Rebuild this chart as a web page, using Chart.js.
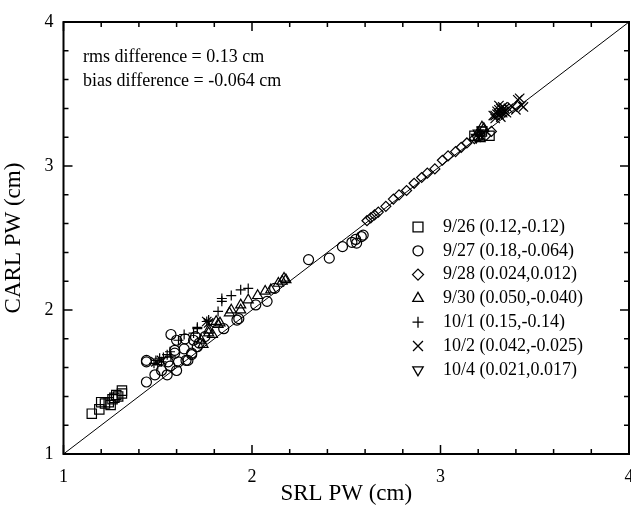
<!DOCTYPE html>
<html>
<head>
<meta charset="utf-8">
<script src="https://cdn.jsdelivr.net/npm/chart.js@4/dist/chart.umd.min.js"></script>
<style>
  html, body { margin: 0; padding: 0; background: #fff; }
  #wrap { width: 631px; height: 508px; position: relative; }
</style>
</head>
<body>
<div id="wrap"><canvas id="c" width="631" height="508"></canvas></div>
<script>
// ---- data (SRL PW, CARL PW) in cm ----
const seriesLabels = ['9/26 (0.12,-0.12)', '9/27 (0.18,-0.064)', '9/28 (0.024,0.012)',
  '9/30 (0.050,-0.040)', '10/1 (0.15,-0.14)', '10/2 (0.042,-0.025)', '10/4 (0.021,0.017)'];

const d0926 = [[1.15,1.28],[1.19,1.31],[1.20,1.36],[1.22,1.35],[1.24,1.36],[1.25,1.34],[1.26,1.38],
  [1.27,1.39],[1.28,1.41],[1.29,1.40],[1.31,1.44],[1.31,1.42],[3.26,3.21],[3.22,3.24],[3.18,3.21]];
const d0927 = [[1.44,1.50],[1.485,1.55],[1.52,1.58],[1.44,1.64],[1.55,1.55],[1.565,1.61],[1.555,1.64],
  [1.57,1.83],[1.60,1.79],[1.64,1.73],[1.59,1.70],[1.65,1.65],[1.61,1.64],[1.68,1.70],[1.71,1.745],
  [1.72,1.77],[1.75,1.815],[1.60,1.58],[1.645,1.80],[1.69,1.79],[1.70,1.815],[1.44,1.65],[1.66,1.65],
  [1.68,1.69],[1.59,1.72],[1.85,1.87],[1.93,1.94],[2.02,2.035],[2.08,2.06],[2.12,2.15],[1.92,1.93],
  [2.30,2.35],[2.41,2.36],[2.48,2.44],[2.53,2.47],[2.55,2.49],[2.58,2.51],[2.59,2.52],[2.555,2.465]];
const d0928 = [[2.61,2.62],[2.63,2.64],[2.65,2.66],[2.67,2.68],[2.71,2.72],[2.75,2.77],[2.78,2.80],
  [2.82,2.83],[2.86,2.88],[2.90,2.92],[2.93,2.95],[2.97,2.98],[3.01,3.04],[3.04,3.07],[3.08,3.10],
  [3.11,3.13],[3.14,3.16],[3.18,3.19],[3.21,3.22],[3.24,3.21],[3.27,3.24]];
const d0930 = [[1.77,1.86],[1.79,1.83],[1.77,1.84],[1.82,1.90],[1.81,1.92],[1.83,1.91],[1.88,1.98],
  [1.89,2.00],[1.94,2.00],[1.94,2.035],[1.98,2.07],[2.03,2.10],[2.07,2.13],[2.10,2.14],[2.14,2.185],
  [2.17,2.22],[2.16,2.20],[2.18,2.21],[1.73,1.79],[1.74,1.76],
  [3.20,3.23],[3.23,3.26],[3.21,3.19],[3.22,3.27],[3.20,3.20]];
const d1001 = [[1.84,2.06],[1.84,2.08],[1.89,2.10],[1.94,2.14],[1.98,2.15],[1.77,1.93],[1.71,1.87],
  [1.82,1.99],[1.71,1.88],[1.69,1.84],[1.64,1.83],[1.55,1.69],[1.51,1.665],[1.49,1.65],[1.48,1.63],
  [1.52,1.64],[1.565,1.71],[1.61,1.79],[1.76,1.92],[1.53,1.67],[1.50,1.62],[1.57,1.68]];
const d1002 = [[3.33,3.41],[3.42,3.47],[3.44,3.41],[3.40,3.39],[3.29,3.35],[3.33,3.37],[3.31,3.42],
  [3.41,3.46],[3.43,3.42],[3.32,3.37],[3.28,3.35],[3.30,3.38],[3.31,3.36],[3.32,3.40],[3.33,3.39],
  [3.34,3.38],[3.35,3.37],[3.31,3.39],[3.30,3.36],[3.34,3.40],[3.36,3.40],[3.38,3.41],[3.32,3.34],
  [3.29,3.33],[1.76,1.92],[1.77,1.91],[1.52,1.65],[1.49,1.64]];
const d1004 = [[3.20,3.23],[3.21,3.21],[3.19,3.20],[3.22,3.25]];

const identityLine = [1, 4];
const axisMin = 1, axisMax = 4, minorStep = 0.2;
const annotations = ['rms difference = 0.13 cm', 'bias difference = -0.064 cm'];

// ---- styling ----
const seriesData = [d0926, d0927, d0928, d0930, d1001, d1002, d1004];
const styles = [
  {pointStyle:'rect', r:6.6, lr:7, rot:0},
  {pointStyle:'circle', r:5, lr:5, rot:0},
  {pointStyle:'rectRot', r:5, lr:5.5, rot:0},
  {pointStyle:'triangle', r:5.8, lr:6, rot:0},
  {pointStyle:'cross', r:5, lr:5.5, rot:0},
  {pointStyle:'crossRot', r:6.6, lr:7, rot:0},
  {pointStyle:'triangle', r:5.8, lr:6, rot:180}
];
const FONT = '"Liberation Serif", "Times New Roman", serif';

const datasets = seriesData.map((arr, i) => ({
  type: 'scatter',
  label: seriesLabels[i],
  data: arr.map(p => ({x: p[0], y: p[1]})),
  pointStyle: styles[i].pointStyle,
  pointRadius: styles[i].r,
  pointRotation: styles[i].rot,
  pointBackgroundColor: 'rgba(0,0,0,0)',
  pointBorderColor: '#000',
  pointBorderWidth: 1.2,
  showLine: false,
  clip: false
}));
datasets.push({
  type: 'line',
  label: '1:1',
  data: identityLine.map(v => ({x: v, y: v})),
  borderColor: '#000',
  borderWidth: 1,
  pointRadius: 0,
  fill: false
});

const isMajor = v => Math.abs(v - Math.round(v)) < 1e-6;

const framePlugin = {
  id: 'frame',
  afterDatasetsDraw(chart) {
    const {ctx, chartArea: a, scales: {x, y}} = chart;
    ctx.save();
    ctx.strokeStyle = '#000';
    ctx.lineWidth = 1.5;
    ctx.beginPath();
    x.ticks.forEach(t => {
      const px = x.getPixelForValue(t.value);
      const L = isMajor(t.value) ? 9 : 5;
      ctx.moveTo(px, a.bottom); ctx.lineTo(px, a.bottom - L);
      ctx.moveTo(px, a.top); ctx.lineTo(px, a.top + L);
    });
    y.ticks.forEach(t => {
      const py = y.getPixelForValue(t.value);
      const L = isMajor(t.value) ? 9 : 5;
      ctx.moveTo(a.left, py); ctx.lineTo(a.left + L, py);
      ctx.moveTo(a.right, py); ctx.lineTo(a.right - L, py);
    });
    ctx.stroke();
    ctx.lineWidth = 2;
    ctx.strokeRect(a.left, a.top, a.right - a.left, a.bottom - a.top);

    // annotations
    ctx.fillStyle = '#000';
    ctx.font = '18px ' + FONT;
    ctx.textBaseline = 'middle';
    ctx.textAlign = 'left';
    ctx.fillText(annotations[0], 83, 57);
    ctx.fillText(annotations[1], 83, 81);

    // legend
    const h = Chart.helpers || {};
    seriesLabels.forEach((lab, i) => {
      const yy = 227 + i * 23.8;
      ctx.strokeStyle = '#000';
      ctx.fillStyle = 'rgba(0,0,0,0)';
      ctx.lineWidth = 1.3;
      if (h.drawPoint) {
        h.drawPoint(ctx, {pointStyle: styles[i].pointStyle, radius: styles[i].lr,
          rotation: styles[i].rot, borderWidth: 1.3}, 418, yy);
      }
      ctx.fillStyle = '#000';
      ctx.fillText(lab, 443, yy);
    });
    ctx.restore();
  }
};

new Chart(document.getElementById('c'), {
  data: { datasets },
  options: {
    responsive: false,
    animation: false,
    layout: { autoPadding: false, padding: { top: 22, right: 2, left: 0, bottom: 0 } },
    plugins: { legend: { display: false }, tooltip: { enabled: false } },
    scales: {
      x: {
        type: 'linear', min: axisMin, max: axisMax,
        grid: { display: false, drawTicks: false },
        border: { display: false },
        ticks: {
          stepSize: minorStep, autoSkip: false, maxRotation: 0, padding: 12,
          color: '#000', font: { family: FONT, size: 18 },
          callback: v => isMajor(v) ? String(Math.round(v)) : ''
        },
        title: { display: true, text: 'SRL PW (cm)', color: '#000',
          font: { family: FONT, size: 23 }, padding: { top: 0, bottom: 0 } },
        afterFit: s => { s.height = 54; s.paddingLeft = 0; s.paddingRight = 0; }
      },
      y: {
        type: 'linear', min: axisMin, max: axisMax,
        grid: { display: false, drawTicks: false },
        border: { display: false },
        ticks: {
          stepSize: minorStep, autoSkip: false, padding: 10,
          color: '#000', font: { family: FONT, size: 18 },
          callback: v => isMajor(v) ? String(Math.round(v)) : ''
        },
        title: { display: true, text: 'CARL PW (cm)', color: '#000',
          font: { family: FONT, size: 23 }, padding: { top: 0, bottom: 0 } },
        afterFit: s => { s.width = 63.5; s.paddingTop = 0; s.paddingBottom = 0; }
      }
    }
  },
  plugins: [framePlugin]
});
</script>
</body>
</html>
